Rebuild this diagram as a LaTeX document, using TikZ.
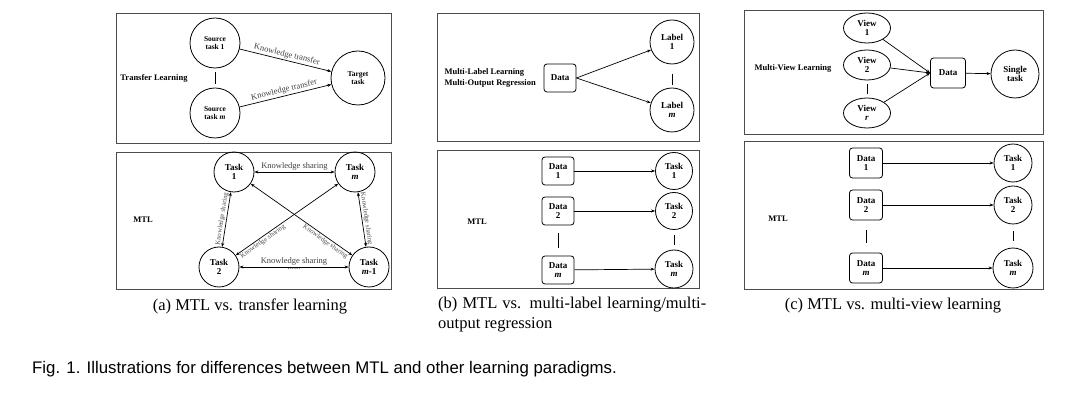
\documentclass[tikz,border=0pt]{standalone}
\usepackage{fontspec}
\setmainfont{Liberation Serif}
\newfontfamily\capfont{Liberation Sans}
\usetikzlibrary{calc, arrows.meta, positioning, shapes.geometric}

\begin{document}
\begin{tikzpicture}[x=1pt, y=-1pt,
  panel/.style={draw=black!70, line width=0.9pt},
  taskcirc/.style={draw, circle, inner sep=0pt, line width=0.8pt,
    align=center, font=\fontsize{9}{9.5}\selectfont\bfseries},
  datbox/.style={draw, rounded corners=3pt, inner sep=0pt, line width=0.8pt,
    minimum width=32pt, minimum height=28pt,
    align=center, font=\fontsize{9}{9.5}\selectfont\bfseries},
  viewell/.style={draw, ellipse, inner sep=0pt, line width=0.8pt,
    minimum width=47pt, minimum height=30pt,
    align=center, font=\fontsize{9}{9.5}\selectfont\bfseries},
  conn/.style={-{Stealth[length=4pt, width=3pt]}, line width=0.7pt},
  biconn/.style={{Stealth[length=4pt, width=3pt]}-{Stealth[length=4pt, width=3pt]},
    line width=0.7pt},
  vdots/.style={line width=0.6pt},
  paradigm/.style={font=\fontsize{8.5}{10.5}\selectfont\bfseries, align=left},
  edgetext/.style={font=\fontsize{8.5}{9}\selectfont, text=black!75, inner sep=1.5pt},
  sidetext/.style={font=\fontsize{6.8}{7}\selectfont, text=black!70, inner sep=1pt},
  subcap/.style={font=\fontsize{16.5}{19.5}\selectfont},
]
\useasboundingbox (0,0) rectangle (1080,403);

% (a) transfer learning
\draw[panel] (116,13) rectangle (391,143);
\node[paradigm] (tl) at (154,78) {Transfer Learning};
\node[taskcirc, minimum size=50pt, font=\fontsize{7.5}{8.5}\selectfont\bfseries]
  (src1) at (215,43) {Source\\task 1};
\node[taskcirc, minimum size=50pt, font=\fontsize{7.5}{8.5}\selectfont\bfseries]
  (srcm) at (215,113) {Source\\task \textit{m}};
\node[taskcirc, minimum size=54pt, font=\fontsize{7.5}{8.5}\selectfont\bfseries]
  (tgt) at (358,78) {Target\\task};
\draw[vdots] ($(src1.south)!0.2!(srcm.north)$) -- ($(src1.south)!0.8!(srcm.north)$);
\draw[conn] (src1) -- node[sloped, above, edgetext] {Knowledge transfer} (tgt);
\draw[conn] (srcm) -- node[sloped, above, edgetext] {Knowledge transfer} (tgt);

% (a) MTL
\draw[panel] (116,152) rectangle (391,289);
\node[paradigm] (mtla) at (143,220) {MTL};
\node[taskcirc, minimum size=40pt] (t1) at (234,172) {Task\\1};
\node[taskcirc, minimum size=40pt] (tm) at (355,172) {Task\\\textit{m}};
\node[taskcirc, minimum size=40pt] (t2) at (219,267) {Task\\2};
\node[taskcirc, minimum size=40pt] (tmm) at (369,267) {Task\\\textit{m}-1};
\draw[biconn] (t1) -- node[above, edgetext] {Knowledge sharing} (tm);
\draw[biconn] (t2) -- node[above, edgetext] {Knowledge sharing}
  node[below, edgetext] {......} (tmm);
\draw[biconn] (t2) -- node[sloped, above, sidetext] {Knowledge sharing} (t1);
\draw[biconn] (tm) -- node[sloped, above, sidetext] {Knowledge sharing} (tmm);
\draw[biconn] (t1) -- node[sloped, below, pos=0.76, sidetext] {Knowledge sharing} (tmm);
\draw[biconn] (tm) -- node[sloped, below, pos=0.76, sidetext] {Knowledge sharing} (t2);

% (b) multi-label learning
\draw[panel] (437,13) rectangle (699,141);
\node[paradigm, anchor=west] (mll) at (441,78)
  {Multi-Label Learning\\Multi-Output Regression};
\node[datbox] (dat) at (560,78) {Data};
\node[taskcirc, minimum size=44pt] (lab1) at (672,42) {Label\\1};
\node[taskcirc, minimum size=44pt] (labm) at (672,110) {Label\\\textit{m}};
\draw[conn] (dat.east) -- (lab1);
\draw[conn] (dat.east) -- (labm);
\draw[vdots] ($(lab1.south)!0.4!(labm.north)$) -- ($(lab1.south)!0.9!(labm.north)$);

% (b) MTL
\draw[panel] (437,150) rectangle (699,288);
\node[paradigm] (mtlb) at (477,222) {MTL};
\node[datbox] (bd1) at (558,171) {Data\\1};
\node[datbox] (bd2) at (558,211) {Data\\2};
\node[datbox] (bdm) at (558,270) {Data\\\textit{m}};
\node[taskcirc, minimum size=37pt] (bt1) at (674,171) {Task\\1};
\node[taskcirc, minimum size=37pt] (bt2) at (674,211) {Task\\2};
\node[taskcirc, minimum size=38pt] (btm) at (674,269) {Task\\\textit{m}};
\draw[conn] (bd1) -- (bt1);
\draw[conn] (bd2) -- (bt2);
\draw[conn] (bdm) -- (btm);
\draw[vdots] ($(bd2.south)!0.25!(bdm.north)$) -- ($(bd2.south)!0.75!(bdm.north)$);
\draw[vdots] ($(bt2.south)!0.25!(btm.north)$) -- ($(bt2.south)!0.75!(btm.north)$);

% (c) multi-view learning
\draw[panel] (744,10) rectangle (1043,134);
\node[paradigm] (mvl) at (793,68) {Multi-View Learning};
\node[viewell] (v1) at (867,28) {View\\1};
\node[viewell] (v2) at (867,65) {View\\2};
\node[viewell] (vr) at (867,113) {View\\\textit{r}};
\node[datbox, minimum width=35pt, minimum height=30pt] (cdat) at (948,73) {Data};
\node[taskcirc, minimum size=48pt] (single) at (1015,74) {Single\\task};
\draw[conn] (v1) -- (cdat.west);
\draw[conn] (v2) -- (cdat.west);
\draw[conn] (vr) -- (cdat.west);
\draw[conn] (cdat) -- (single);
\draw[vdots] ($(v2.south)!0.2!(vr.north)$) -- ($(v2.south)!0.8!(vr.north)$);

% (c) MTL
\draw[panel] (744,141) rectangle (1043,289);
\node[paradigm] (mtlc) at (778,219) {MTL};
\node[datbox, minimum width=33pt, minimum height=30pt] (cd1) at (866,163) {Data\\1};
\node[datbox, minimum width=33pt, minimum height=30pt] (cd2) at (866,205) {Data\\2};
\node[datbox, minimum width=33pt, minimum height=30pt] (cdm) at (866,268) {Data\\\textit{m}};
\node[taskcirc, minimum size=38pt] (ct1) at (1013,163) {Task\\1};
\node[taskcirc, minimum size=38pt] (ct2) at (1013,205) {Task\\2};
\node[taskcirc, minimum size=40pt] (ctm) at (1013,268) {Task\\\textit{m}};
\draw[conn] (cd1) -- (ct1);
\draw[conn] (cd2) -- (ct2);
\draw[conn] (cdm) -- (ctm);
\draw[vdots] ($(cd2.south)!0.3!(cdm.north)$) -- ($(cd2.south)!0.7!(cdm.north)$);
\draw[vdots] ($(ct2.south)!0.3!(ctm.north)$) -- ($(ct2.south)!0.7!(ctm.north)$);

% captions
\node[subcap] (capa) at (250,306) {(a) MTL vs. transfer learning};
\node[subcap, text width=268pt, align=justify, anchor=north west, inner sep=0pt]
  (capb) at (438,297) {(b) MTL vs. multi-label learning/multi-\linebreak output regression};
\node[subcap] (capc) at (893,306) {(c) MTL vs. multi-view learning};
\node[font=\capfont\fontsize{16.8}{18}\selectfont, anchor=west, inner sep=0pt]
  (fig) at (32,369) {Fig. 1. Illustrations for differences between MTL and other learning paradigms.};
\end{tikzpicture}
\end{document}
